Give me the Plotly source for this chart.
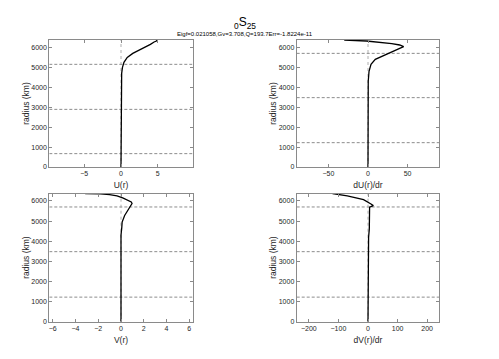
import plotly.graph_objects as go

# ---- data ----
R_TOP = 6371

u_r = [0, 4000, 4300, 4700, 5000, 5250, 5500, 5700, 5850, 6000, 6150, 6270, 6330, 6371]
u_v = [0, 0, 0.03, 0.09, 0.2, 0.4, 0.85, 1.6, 2.4, 3.3, 4.0, 4.5, 4.9, 4.8]

du_r = [0, 3800, 4300, 4800, 5150, 5400, 5560, 5700, 5740, 5820, 5950, 6036, 6120, 6187, 6260, 6322, 6371]
du_v = [0, 0, 0.3, 1.3, 3.8, 9.2, 17.7, 25, 27, 32.4, 40, 45, 40, 30, 12, -2, -30]

v_r = [0, 4300, 4690, 4950, 5280, 5610, 5800, 5870, 5950, 6065, 6150, 6250, 6320, 6350, 6371]
v_v = [0, 0, 0.07, 0.1, 0.32, 0.67, 0.9, 0.97, 0.9, 0.53, 0.15, -0.35, -1.0, -1.8, -3.15]

dv_r = [0, 3500, 3900, 4200, 4600, 5200, 5690, 5720, 5770, 5850, 5930, 6065, 6250, 6371]
dv_v = [0, 0, 0.5, 2, 4.4, 5, 5.4, 10, 18, 10, 2, -15, -70, -120]

# boundary lines (radius, km)
bounds_u = [5150, 2891, 670]
bounds_other = [5701, 3480, 1221]

xlims = [9.75, 90, 6.3, 241]
xticks = [[-5, 0, 5], [-50, 0, 50], [-6, -4, -2, 0, 2, 4, 6], [-200, -100, 0, 100, 200]]
xlabels = ["U(r)", "dU(r)/dr", "V(r)", "dV(r)/dr"]
yticks = [0, 1000, 2000, 3000, 4000, 5000, 6000]

title_main = "<sub>0</sub>S<sub>25</sub>"
subtitle = "Eigf=0.021058,Gv=3.708,Q=193.7Err=-1.8224e-11"

# ---- layout geometry ----
# page body has an 8px margin, so the figure is placed at (8, 8) in the window
OFF = 8
W, H = 491, 343


def px(x):
    return (x - OFF) / W


def py(y):
    return 1 - (y - OFF) / H


xdom = [[px(49.3), px(192.7)], [px(296.7), px(439.3)], [px(49.3), px(192.7)], [px(296.7), px(439.3)]]
ydom = [[py(167), py(40)], [py(167), py(40)], [py(321.7), py(193.5)], [py(321.7), py(193.5)]]

FONT = "Liberation Sans, Arial, Helvetica, sans-serif"
AXC = "#8a8a8a"
TXT = "#262626"

fig = go.Figure()
curves = [(u_v, u_r), (du_v, du_r), (v_v, v_r), (dv_v, dv_r)]
bset = [bounds_u, bounds_other, bounds_other, bounds_other]

layout = {}
for i in range(4):
    xa = "x" if i == 0 else f"x{i+1}"
    ya = "y" if i == 0 else f"y{i+1}"
    lim = xlims[i]
    for b in bset[i]:
        fig.add_trace(go.Scatter(x=[-lim, lim], y=[b, b], mode="lines",
                                 line=dict(color="#6e6e6e", width=0.8, dash="3px,2px"),
                                 xaxis=xa, yaxis=ya, hoverinfo="skip", showlegend=False))
    fig.add_trace(go.Scatter(x=[0, 0], y=[0, R_TOP], mode="lines",
                             line=dict(color="#9a9a9a", width=0.8, dash="dot"),
                             xaxis=xa, yaxis=ya, hoverinfo="skip", showlegend=False))
    xv, rv = curves[i]
    fig.add_trace(go.Scatter(x=xv, y=rv, mode="lines",
                             line=dict(color="black", width=1.3),
                             xaxis=xa, yaxis=ya, showlegend=False))
    kx = "xaxis" if i == 0 else f"xaxis{i+1}"
    ky = "yaxis" if i == 0 else f"yaxis{i+1}"
    layout[kx] = dict(domain=xdom[i], anchor=ya, range=[-lim, lim], tickvals=xticks[i],
                      automargin=False,
                      showgrid=False, zeroline=False, showline=True, mirror="ticks",
                      linecolor=AXC, linewidth=1, ticks="inside", ticklen=3, tickcolor=AXC,
                      tickfont=dict(size=7, color=TXT, family=FONT),
                      title=dict(text=xlabels[i], font=dict(size=8.5, color=TXT, family=FONT), standoff=5))
    layout[ky] = dict(domain=ydom[i], anchor=xa, range=[0, R_TOP], tickvals=yticks,
                      automargin=False,
                      showgrid=False, zeroline=False, showline=True, mirror="ticks",
                      linecolor=AXC, linewidth=1, ticks="inside", ticklen=3, tickcolor=AXC,
                      tickfont=dict(size=7, color=TXT, family=FONT),
                      title=dict(text="radius (km)", font=dict(size=8.5, color=TXT, family=FONT), standoff=0))

fig.update_layout(**layout)
fig.update_layout(
    width=W, height=H, margin=dict(l=0, r=0, t=0, b=0, autoexpand=False),
    paper_bgcolor="white", plot_bgcolor="white",
    font=dict(family=FONT, color=TXT),
    annotations=[
        dict(text=title_main, x=px(244.5), y=py(23), xref="paper", yref="paper",
             showarrow=False, xanchor="center", yanchor="middle",
             font=dict(size=12, color="black", family=FONT)),
        dict(text=subtitle, x=px(244.5), y=py(34.5), xref="paper", yref="paper",
             showarrow=False, xanchor="center", yanchor="middle",
             font=dict(size=6, color="black", family=FONT)),
    ],
)

fig.write_html("out.html")
